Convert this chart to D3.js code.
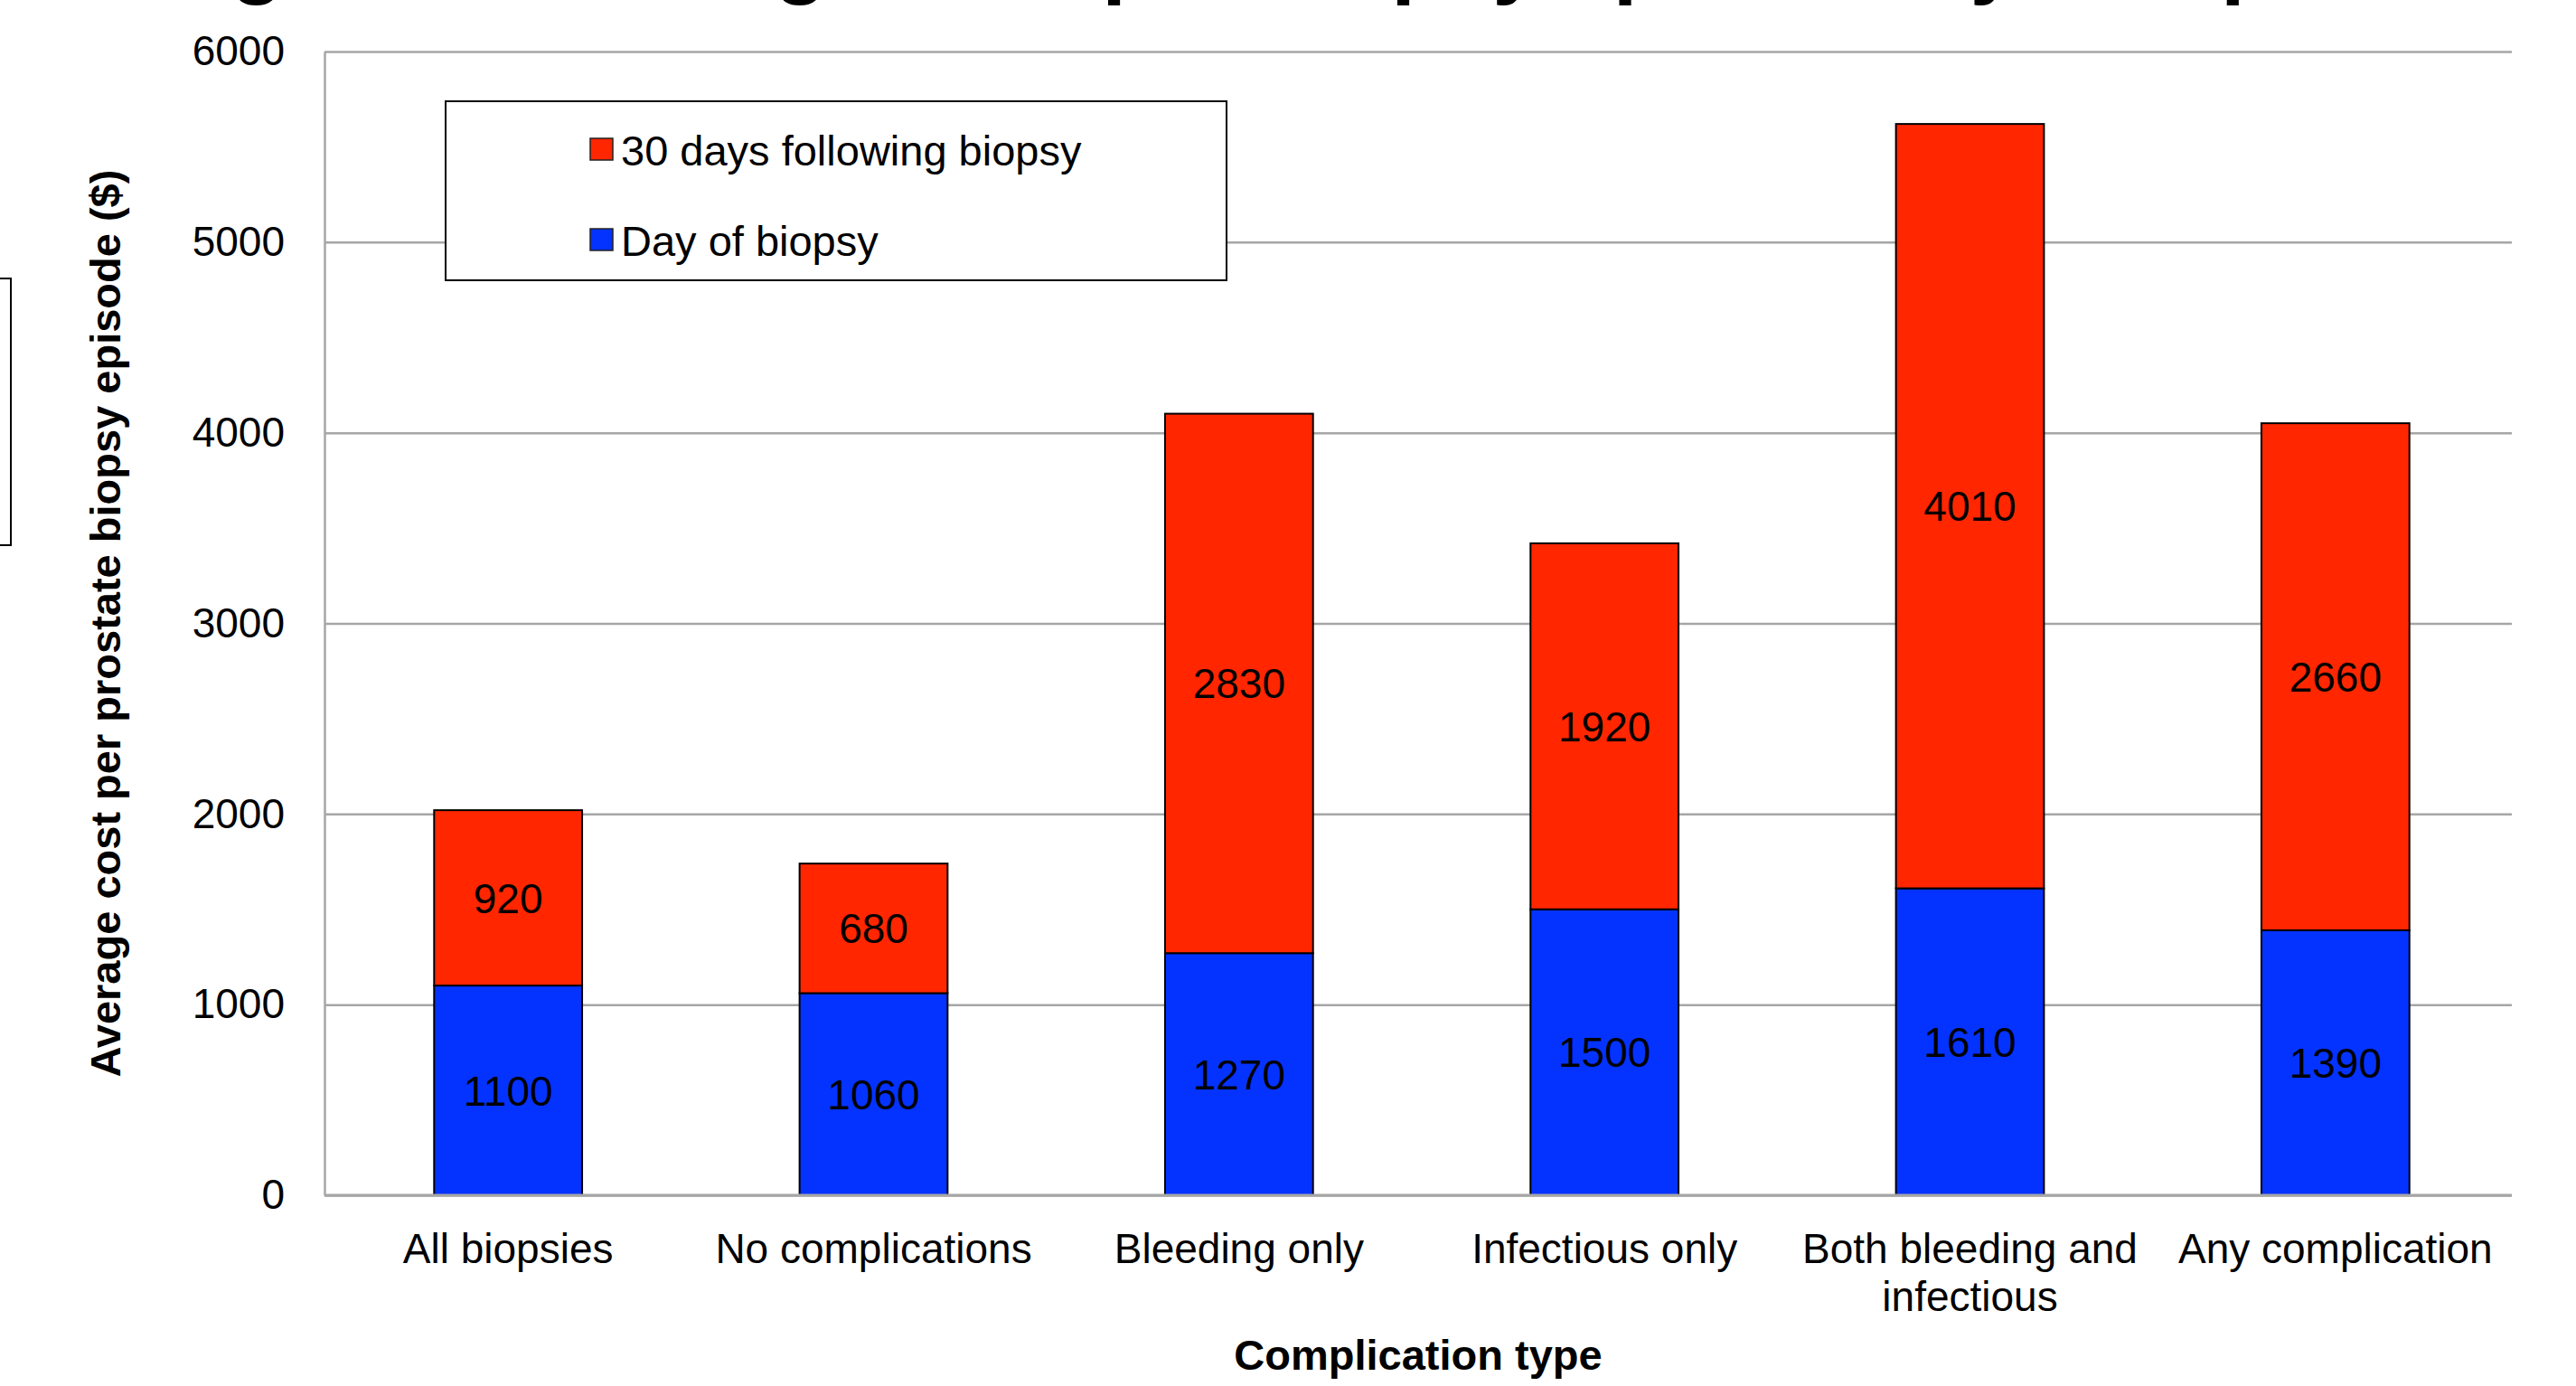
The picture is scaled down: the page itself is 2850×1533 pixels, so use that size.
<!DOCTYPE html>
<meta charset="utf-8">
<head>
    <title>Average cost per biopsy episode by complication type</title>
    <script src="https://cdn.jsdelivr.net/npm/d3@7"></script>
    <style>
        body { margin: 0; background: #fff; }
        text { font-family: "Liberation Sans", Arial, Helvetica, sans-serif; }
    </style>
</head>
<body>
<div id="chart"></div>
<script>
    // data
    const categories = ["All biopsies", "No complications", "Bleeding only", "Infectious only",
                        "Both bleeding and\ninfectious", "Any complication"];
    const dayOfBiopsy = [1100, 1060, 1270, 1500, 1610, 1390];
    const following30 = [920, 680, 2830, 1920, 4010, 2660];
    const yTicks = [0, 1000, 2000, 3000, 4000, 5000, 6000];
    const seriesNames = ["Day of biopsy", "30 days following biopsy"];
    const seriesColors = ["#0433ff", "#ff2600"];

    const width = 2850, height = 1533;
    const margin = {top: 57, right: 71, bottom: 211, left: 359};
    const plotW = width - margin.left - margin.right;
    const plotH = height - margin.top - margin.bottom;

    const svg = d3.select("#chart").append("svg")
        .attr("width", width)
        .attr("height", height)
        .style("display", "block");

    svg.append("rect").attr("width", width).attr("height", height).attr("fill", "#fff");

    // title, mostly cut off at the top of the picture (as in the source image)
    svg.append("text")
        .attr("x", 170)
        .attr("y", -14)
        .attr("font-size", 96)
        .attr("font-weight", "bold")
        .text("Figure 1. Average cost per biopsy episode by complication type");

    // stray box on the left edge
    svg.append("rect")
        .attr("x", -40).attr("y", 308)
        .attr("width", 52).attr("height", 295)
        .attr("fill", "none").attr("stroke", "#000").attr("stroke-width", 2);

    const g = svg.append("g")
        .attr("transform", "translate(" + margin.left + "," + margin.top + ")");

    // bands are a touch wider than the gridlines, like the source
    const x = d3.scaleBand()
        .domain(categories)
        .range([1, 2427])
        .paddingInner(0.595)
        .paddingOuter(0.2975);

    const y = d3.scaleLinear().domain([0, 6000]).range([plotH, 0]);

    // gridlines + y labels
    const yAxis = g.append("g")
        .call(d3.axisLeft(y).tickValues(yTicks).tickFormat(d3.format("d"))
            .tickSizeInner(-plotW).tickSizeOuter(0).tickPadding(44));
    yAxis.select(".domain").attr("stroke", "#a6a6a6").attr("stroke-width", 2.5);
    yAxis.selectAll(".tick line").attr("stroke", "#a6a6a6").attr("stroke-width", 2.5);
    yAxis.selectAll(".tick text")
        .attr("font-size", 46)
        .attr("fill", "#000")
        .attr("font-family", "Liberation Sans, Arial, sans-serif");

    // stacked bars
    const rows = categories.map((c, i) => ({cat: c, day: dayOfBiopsy[i], after: following30[i]}));
    const stack = d3.stack().keys(["day", "after"])(rows);

    const layers = g.selectAll(".layer")
        .data(stack)
        .enter().append("g")
        .attr("class", "layer")
        .attr("fill", (d, i) => seriesColors[i]);

    layers.selectAll("rect")
        .data(d => d)
        .enter().append("rect")
        .attr("x", d => x(d.data.cat))
        .attr("y", d => y(d[1]))
        .attr("width", x.bandwidth())
        .attr("height", d => y(d[0]) - y(d[1]))
        .attr("stroke", "#000")
        .attr("stroke-width", 2);

    layers.selectAll("text")
        .data(d => d)
        .enter().append("text")
        .attr("x", d => x(d.data.cat) + x.bandwidth() / 2)
        .attr("y", d => (y(d[0]) + y(d[1])) / 2)
        .attr("dy", "0.36em")
        .attr("text-anchor", "middle")
        .attr("font-size", 46)
        .attr("fill", "#000")
        .text(d => d[1] - d[0]);

    // x axis
    const xAxis = g.append("g")
        .attr("transform", "translate(0," + plotH + ")");
    xAxis.append("line")
        .attr("x1", 0).attr("x2", plotW)
        .attr("stroke", "#a6a6a6").attr("stroke-width", 3);

    xAxis.selectAll(".xlab")
        .data(categories)
        .enter().append("text")
        .attr("class", "xlab")
        .attr("transform", d => "translate(" + (x(d) + x.bandwidth() / 2) + ",75)")
        .attr("text-anchor", "middle")
        .attr("font-size", 46)
        .attr("fill", "#000")
        .each(function(d) {
            const t = d3.select(this);
            d.split("\n").forEach((line, i) => {
                t.append("tspan").attr("x", 0).attr("dy", i === 0 ? 0 : 53).text(line);
            });
        });

    // axis titles
    svg.append("text")
        .attr("x", margin.left + plotW / 2)
        .attr("y", 1515)
        .attr("text-anchor", "middle")
        .attr("font-size", 47)
        .attr("font-weight", "bold")
        .text("Complication type");

    svg.append("text")
        .attr("transform", "translate(133," + (margin.top + plotH / 2) + ") rotate(-90)")
        .attr("text-anchor", "middle")
        .attr("font-size", 47)
        .attr("font-weight", "bold")
        .text("Average cost per prostate biopsy episode ($)");

    // legend
    const legend = svg.append("g");
    legend.append("rect")
        .attr("x", 493).attr("y", 112)
        .attr("width", 864).attr("height", 198)
        .attr("fill", "#fff").attr("stroke", "#000").attr("stroke-width", 2);

    const legendItems = [
        {name: seriesNames[1], color: seriesColors[1], y: 166},
        {name: seriesNames[0], color: seriesColors[0], y: 266}
    ];
    const li = legend.selectAll(".item")
        .data(legendItems)
        .enter().append("g")
        .attr("class", "item");
    li.append("rect")
        .attr("x", 653).attr("y", d => d.y - 13)
        .attr("width", 25).attr("height", 24)
        .attr("fill", d => d.color)
        .attr("stroke", "#222").attr("stroke-width", 1.5);
    li.append("text")
        .attr("x", 687).attr("y", d => d.y)
        .attr("dy", "0.36em")
        .attr("font-size", 47)
        .text(d => d.name);
</script>
</body>
